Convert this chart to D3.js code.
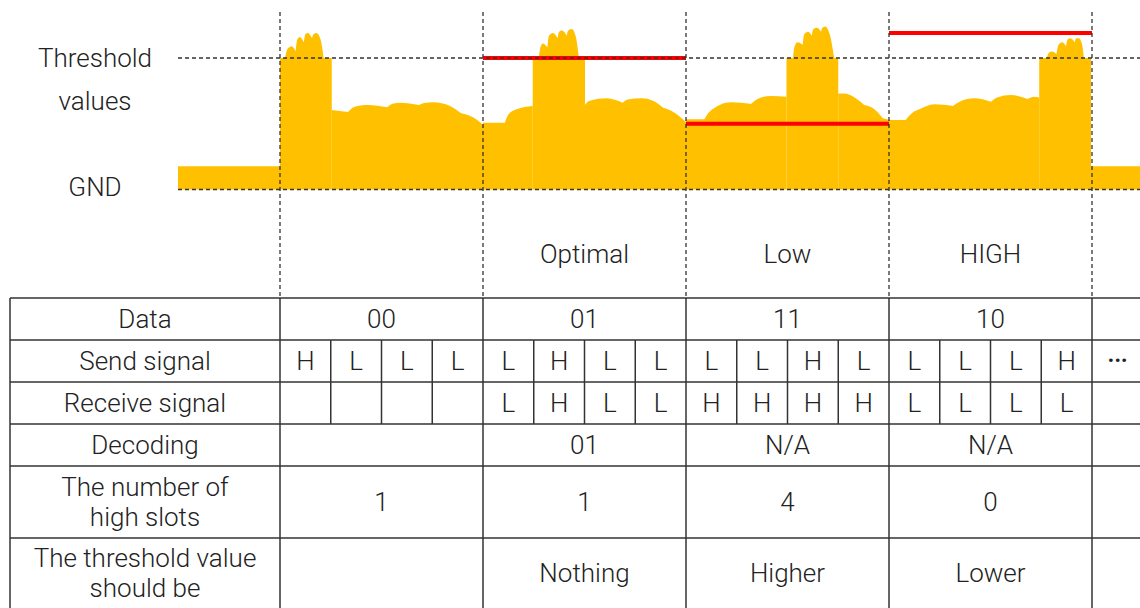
<!DOCTYPE html>
<html>
<head>
<meta charset="utf-8">
<script src="https://cdn.jsdelivr.net/npm/d3@7"></script>
<style>
  body { margin: 0; background: #fff; }
  text { font-family: Roboto, "Noto Sans", sans-serif; font-weight: 300; fill: #222; font-size: 26px; }
</style>
</head>
<body>
<svg id="chart" width="1140" height="608"></svg>
<script>
// Table content
const rowLabels = [["Data"], ["Send signal"], ["Receive signal"], ["Decoding"],
  ["The number of", "high slots"], ["The threshold value", "should be"]];
const dataBits = ["00", "01", "11", "10"];
const sendSignal = ["H","L","L","L", "L","H","L","L", "L","L","H","L", "L","L","L","H"];
const receiveSignal = ["","","","", "L","H","L","L", "H","H","H","H", "L","L","L","L"];
const decoding = ["", "01", "N/A", "N/A"];
const highSlots = ["1", "1", "4", "0"];
const thresholdAdvice = ["", "Nothing", "Higher", "Lower"];
const thresholdStates = ["", "Optimal", "Low", "HIGH"];
// red threshold level per group (GND = 0, nominal threshold = 1)
const thresholdLevels = [null, 1.0, 0.5, 1.19];

// received waveform, [slot time, level, cusp?] - a third value 1 starts a new arc
const waveSegments = [
  [[-2.01, 0.176], [0, 0.176]],
  [[0, 1], [0.1, 1, 1], [0.15, 1.07], [0.23, 1.09], [0.31, 1.05, 1], [0.34, 1.14], [0.39, 1.16], [0.47, 1.12, 1], [0.5, 1.18], [0.55, 1.19],
   [0.63, 1.15, 1], [0.66, 1.18], [0.72, 1.19], [0.8, 1.14], [0.86, 1.0, 1], [1.02, 1]],
  [[1.02, 0.605], [1.34, 0.589, 1], [1.46, 0.628], [1.73, 0.643], [2.11, 0.625, 1], [2.22, 0.652], [2.37, 0.66], [2.74, 0.643, 1],
   [2.84, 0.658], [3.02, 0.663], [3.35, 0.635], [3.57, 0.58, 1], [3.74, 0.56], [3.88, 0.53], [4, 0.49]],
  [[4, 0.508], [4.43, 0.508, 1], [4.5, 0.57], [4.66, 0.61], [4.98, 0.635]],
  [[4.98, 1], [5.1, 1, 1], [5.13, 1.08], [5.18, 1.11], [5.27, 1.08, 1], [5.3, 1.17], [5.38, 1.19], [5.47, 1.15, 1], [5.5, 1.2], [5.56, 1.21],
   [5.65, 1.17, 1], [5.68, 1.21], [5.75, 1.22], [5.83, 1.16], [5.89, 1.0, 1], [6.01, 1]],
  [[6.01, 0.643], [6.1, 0.675], [6.44, 0.694], [6.75, 0.66, 1], [6.85, 0.685], [7.13, 0.694], [7.35, 0.675], [7.55, 0.622, 1],
   [7.75, 0.59], [7.94, 0.534], [8, 0.51]],
  [[8, 0.534], [8.36, 0.534, 1], [8.46, 0.59], [8.89, 0.663], [9.28, 0.65, 1], [9.42, 0.69], [9.67, 0.711], [9.98, 0.706]],
  [[9.98, 1], [10.11, 1, 1], [10.14, 1.09], [10.2, 1.12], [10.3, 1.1, 1], [10.33, 1.18], [10.4, 1.2], [10.48, 1.17, 1], [10.51, 1.22], [10.58, 1.23],
   [10.66, 1.2, 1], [10.69, 1.23], [10.74, 1.24], [10.84, 1.17], [10.92, 1.0, 1], [11, 1]],
  [[11, 0.73], [11.12, 0.73], [11.3, 0.705], [11.51, 0.643, 1], [11.7, 0.615], [11.88, 0.541, 1], [12, 0.53]],
  [[12, 0.529], [12.33, 0.529, 1], [12.45, 0.58], [12.6, 0.61], [12.89, 0.648], [13.26, 0.635, 1], [13.4, 0.67], [13.68, 0.694],
   [14.01, 0.668, 1], [14.13, 0.7], [14.4, 0.719], [14.73, 0.688, 1], [14.86, 0.706], [14.96, 0.7]],
  [[14.96, 1], [15.11, 1, 1], [15.15, 1.04], [15.21, 1.05], [15.3, 1.03, 1], [15.34, 1.1], [15.41, 1.12], [15.49, 1.09, 1], [15.52, 1.14], [15.57, 1.15],
   [15.66, 1.12, 1], [15.69, 1.15], [15.74, 1.15], [15.8, 1.11], [15.84, 1.0, 1], [15.98, 1]],
  [[15.98, 0.176], [16.97, 0.176]]
];

const svg = d3.select("#chart");
const width = 1140, height = 608;

// slot scale: 16 slots between first and last group lines
const x = d3.scaleLinear().domain([0, 16]).range([280, 1092]);
const y = d3.scaleLinear().domain([0, 1]).range([189.5, 58]);
const lineLeft = 178;

// waveform: each piece is split into arcs at cusp points, arcs share one path
const area = d3.area()
  .x(d => x(d[0]))
  .y0(y(0))
  .y1(d => y(d[1]))
  .curve(d3.curveMonotoneX);

function splitArcs(pts) {
  const arcs = [];
  let cur = [pts[0]];
  for (let i = 1; i < pts.length; i++) {
    cur.push(pts[i]);
    if (pts[i][2] && i < pts.length - 1) {
      arcs.push(cur);
      cur = [pts[i]];
    }
  }
  arcs.push(cur);
  return arcs;
}

svg.append("g").selectAll("path")
  .data(waveSegments)
  .join("path")
  .attr("d", seg => splitArcs(seg).map(a => area(a)).join(""))
  .attr("fill", "#FFC000");

// red threshold bars
svg.append("g").selectAll("line")
  .data(thresholdLevels.map((v, i) => ({ v, i })).filter(d => d.v !== null))
  .join("line")
  .attr("x1", d => x(d.i * 4))
  .attr("x2", d => x(d.i * 4 + 4))
  .attr("y1", d => y(d.v))
  .attr("y2", d => y(d.v))
  .attr("stroke", "#FF0000")
  .attr("stroke-width", 4);

// dashed guides
const dash = "4,3";
svg.append("g").selectAll("line")
  .data([1, 0])
  .join("line")
  .attr("x1", lineLeft).attr("x2", width)
  .attr("y1", d => y(d)).attr("y2", d => y(d))
  .attr("stroke", "#333").attr("stroke-width", 1.3)
  .attr("stroke-dasharray", dash);

const tableTop = 298;
svg.append("g").selectAll("line")
  .data([0, 4, 8, 12, 16])
  .join("line")
  .attr("x1", d => x(d)).attr("x2", d => x(d))
  .attr("y1", 12).attr("y2", tableTop)
  .attr("stroke", "#333").attr("stroke-width", 1.3)
  .attr("stroke-dasharray", dash);

// left labels
const labelX = 95;
svg.append("text").attr("x", labelX).attr("y", y(1)).attr("dy", "0.33em").attr("text-anchor", "middle").text("Threshold");
svg.append("text").attr("x", labelX).attr("y", 101).attr("dy", "0.33em").attr("text-anchor", "middle").text("values");
svg.append("text").attr("x", labelX).attr("y", y(0) - 2).attr("dy", "0.33em").attr("text-anchor", "middle").text("GND");

// state labels
svg.append("g").selectAll("text")
  .data(thresholdStates)
  .join("text")
  .attr("x", (d, i) => x(i * 4 + 2))
  .attr("y", 254).attr("dy", "0.33em")
  .attr("text-anchor", "middle")
  .text(d => d);

// table
const tableLeft = 10;
const rowEdges = [298, 340, 382, 424, 466, 538, 640];
const table = svg.append("g");
const stroke = "#333";

function hline(yy) {
  table.append("line").attr("x1", tableLeft).attr("x2", width)
    .attr("y1", yy).attr("y2", yy).attr("stroke", stroke).attr("stroke-width", 1.5);
}
function vline(xx, r0, r1) {
  table.append("line").attr("x1", xx).attr("x2", xx)
    .attr("y1", rowEdges[r0]).attr("y2", rowEdges[r1]).attr("stroke", stroke).attr("stroke-width", 1.5);
}
function cellText(cx, r, lines, shift = 0) {
  const top = rowEdges[r], bot = r === 5 ? 608 : rowEdges[r + 1];
  const mid = (top + bot) / 2 + shift;
  return lines.map((t, k) => table.append("text")
      .attr("x", cx)
      .attr("y", mid + (k - (lines.length - 1) / 2) * 30)
      .attr("dy", "0.33em")
      .attr("text-anchor", "middle")
      .text(t));
}

rowEdges.slice(0, 6).forEach(hline);
vline(tableLeft, 0, 6);
vline(x(0), 0, 6);
[4, 8, 12, 16].forEach(s => vline(x(s), 0, 6));
// slot dividers in signal rows
d3.range(1, 17).filter(s => s % 4 !== 0).forEach(s => vline(x(s), 1, 3));

rowLabels.forEach((lines, r) => cellText((tableLeft + x(0)) / 2, r, lines));

dataBits.forEach((d, g) => cellText(x(g * 4 + 2), 0, [d]));
sendSignal.forEach((d, s) => cellText(x(s + 0.5), 1, [d]));
cellText(x(16.5), 1, ["…"], -10)[0].style("font-size", "32px").style("font-weight", 400);
receiveSignal.forEach((d, s) => { if (d) cellText(x(s + 0.5), 2, [d]); });
decoding.forEach((d, g) => { if (d) cellText(x(g * 4 + 2), 3, [d]); });
highSlots.forEach((d, g) => cellText(x(g * 4 + 2), 4, [d]));
thresholdAdvice.forEach((d, g) => { if (d) cellText(x(g * 4 + 2), 5, [d]); });
</script>
</body>
</html>
